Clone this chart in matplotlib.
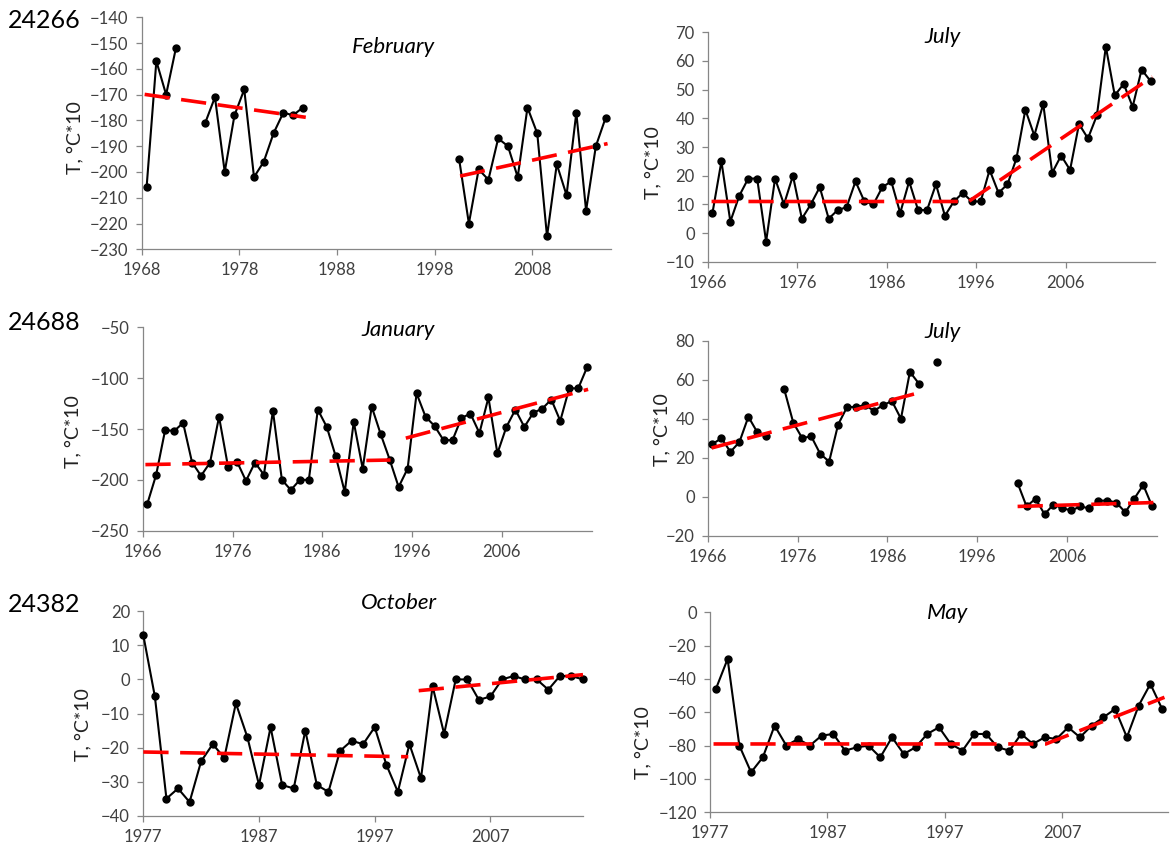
import numpy as np
import matplotlib.pyplot as plt

plt.rcParams['font.family'] = ['Lato', 'DejaVu Sans']

nan = np.nan

# 24266 - February
feb_start = 1968
feb_vals = [-206, -157, -170, -152, nan, nan, -181, -171, -200, -178,
            -168, -202, -196, -185, -177, -178, -175,
            nan, nan, nan, nan, nan, nan, nan, nan, nan, nan, nan, nan, nan, nan, nan,
            -195, -220, -199, -203, -187, -190, -202, -175, -185, -225,
            -197, -209, -177, -215, -190, -179]
feb_trend_x = [[1967.8, 1984.3], [2000.1, 2015.2]]
feb_trend_y = [[-169.9, -178.8], [-201.6, -189.0]]

# 24266 - July
jul1_start = 1966
jul1_vals = [7, 25, 4, 13, 19, 19, -3, 19, 10, 20,
             5, 10, 16, 5, 8, 9, 18, 11, 10, 16,
             18, 7, 18, 8, 8, 17, 6, 11, 14, 11,
             11, 22, 14, 17, 26, 43, 34, 45, 21, 27,
             22, 38, 33, 41, 65, 48, 52, 44, 57, 53]
jul1_trend_x = [[1965.9, 1994.65, 2015.2]]
jul1_trend_y = [[11, 11, 54.5]]

# 24688 - January
jan_start = 1966
jan_vals = [-224, -195, -151, -152, -144, -183, -196, -183, -138, -187,
            -182, -201, -183, -195, -132, -200, -210, -200, -200, -131,
            -148, -177, -212, -143, -189, -128, -155, -180, -207, -189,
            -115, -138, -147, -161, -161, -139, -135, -154, -119, -174,
            -148, -131, -148, -134, -130, -121, -142, -110, -110, -89]
jan_trend_x = [[1965.8, 1993.1], [1994.8, 2015.1]]
jan_trend_y = [[-185, -180.5], [-159, -111]]

# 24688 - July
jul2_start = 1966
jul2_vals = [27, 30, 23, 28, 41, 33, 31, nan, 55, 38,
             30, 31, 22, 18, 37, 46, 46, 47, 44, 47,
             49, 40, 64, 58, nan, 69, nan, nan, nan, nan,
             nan, nan, nan, nan, 7, -5, -1, -9, -4, -6,
             -7, -5, -6, -2, -2, -3, -8, -1, 6, -5]
jul2_trend_x = [[1965.9, 1988.5], [2000.0, 2015.2]]
jul2_trend_y = [[25, 52.7], [-5, -3]]

# 24382 - October
oct_start = 1977
oct_vals = [13, -5, -35, -32, -36, -24, -19, -23, -7, -17,
            -31, -14, -31, -32, -15, -31, -33, -21, -18, -19,
            -14, -25, -33, -19, -29, -2, -16, 0, 0, -6,
            -5, 0, 1, 0, 0, -3, 1, 1, 0]
oct_trend_x = [[1977, 1999.9], [2000.8, 2015]]
oct_trend_y = [[-21.3, -22.7], [-3.3, 1.4]]

# 24382 - May
may_start = 1977
may_vals = [-46, -28, -80, -96, -87, -68, -80, -76, -80, -74,
            -73, -83, -81, -80, -87, -75, -85, -81, -73, -69,
            -79, -83, -73, -73, -81, -83, -73, -79, -75, -76,
            -69, -75, -68, -63, -58, -75, -56, -43, -58]
may_trend_x = [[1976.8, 2005.1, 2015.2]]
may_trend_y = [[-79, -79, -51]]

W, H = 1171, 857
fig = plt.figure(figsize=(W / 100, H / 100), dpi=100)
axis_col = '#868686'
label_col = '#404040'


def px_box(l, r, t, b):
    return [l / W, 1 - b / H, (r - l) / W, (b - t) / H]


def fig_text(x, y, s, **kw):
    fig.text(x / W, 1 - y / H, s, va='center', **kw)


def panel(box, start, vals, offset, xlim, xticks, ylim, ystep, trend_x, trend_y):
    ax = fig.add_axes(box)
    years = np.arange(start, start + len(vals)) + offset
    ax.plot(years, vals, color='black', lw=1.5, marker='o', ms=5,
            clip_on=False, zorder=3)
    for tx, ty in zip(trend_x, trend_y):
        ax.plot(np.array(tx) + offset, ty, color='red', lw=2.6,
                dashes=(7, 3.2), zorder=4, clip_on=False)
    ax.set_xlim(*xlim)
    ax.set_ylim(*ylim)
    ax.set_xticks(xticks)
    ax.set_yticks(np.arange(ylim[0], ylim[1] + ystep / 2, ystep))
    for s in ['top', 'right']:
        ax.spines[s].set_visible(False)
    for s in ['left', 'bottom']:
        ax.spines[s].set_color(axis_col)
        ax.spines[s].set_linewidth(0.9)
    ax.tick_params(direction='out', length=4.5, width=0.9, color=axis_col,
                   labelcolor=label_col, labelsize=12)
    ax.tick_params(axis='x', pad=5)
    ax.tick_params(axis='y', pad=5)
    ax.patch.set_alpha(0)
    return ax


panel(px_box(141.7, 610.5, 17.3, 249.3), feb_start, feb_vals, 0.5,
      (1968, 2016), range(1968, 2016, 10), (-230, -140), 10, feb_trend_x, feb_trend_y)
panel(px_box(708, 1155, 32.3, 261.7), jul1_start, jul1_vals, 0.5,
      (1966, 2016), range(1966, 2016, 10), (-10, 70), 10, jul1_trend_x, jul1_trend_y)
panel(px_box(142.7, 591.7, 327.3, 530.7), jan_start, jan_vals, 0.5,
      (1966, 2016), range(1966, 2016, 10), (-250, -50), 50, jan_trend_x, jan_trend_y)
panel(px_box(708, 1156.7, 340.7, 535.7), jul2_start, jul2_vals, 0.5,
      (1966, 2016), range(1966, 2016, 10), (-20, 80), 20, jul2_trend_x, jul2_trend_y)
panel(px_box(143.3, 583, 611.3, 815.7), oct_start, oct_vals, 0,
      (1977, 2015), range(1977, 2015, 10), (-40, 20), 10, oct_trend_x, oct_trend_y)
panel(px_box(710, 1168, 612.3, 812.3), may_start, may_vals, 0.5,
      (1977, 2016), range(1977, 2016, 10), (-120, 0), 20, may_trend_x, may_trend_y)

# station numbers
fig_text(8, 20, '24266', fontsize=18, ha='left')
fig_text(8, 322, '24688', fontsize=18, ha='left')
fig_text(8, 604, '24382', fontsize=18, ha='left')

# month titles
fig_text(393, 47, 'February', fontsize=16, style='italic', ha='center')
fig_text(943, 37, 'July', fontsize=16, style='italic', ha='center')
fig_text(398, 330, 'January', fontsize=16, style='italic', ha='center')
fig_text(943, 332, 'July', fontsize=16, style='italic', ha='center')
fig_text(399, 603, 'October', fontsize=16, style='italic', ha='center')
fig_text(948, 613, 'May', fontsize=16, style='italic', ha='center')

# y labels
ylab = 'T, \u00b0C*10'
for x, y in [(75, 138), (653, 163), (73, 432), (662, 430), (83, 725), (643, 743)]:
    fig_text(x, y, ylab, fontsize=14, rotation=90, ha='center', color='#222222')

plt.savefig('out.png', dpi=100)
